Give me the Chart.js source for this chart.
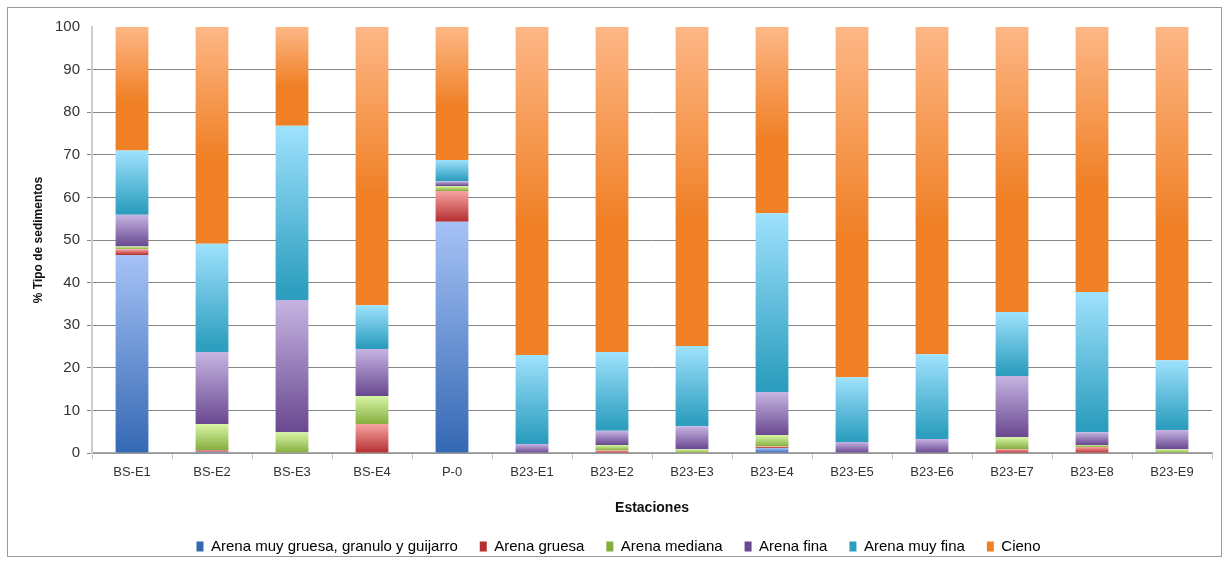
<!DOCTYPE html>
<html>
<head>
<meta charset="utf-8">
<script src="https://cdn.jsdelivr.net/npm/chart.js@4"></script>
<style>
  html, body { margin: 0; padding: 0; background: #fff; }
  #wrap { position: relative; width: 1226px; height: 564px; }
</style>
</head>
<body>
<div id="wrap"><canvas id="sed"></canvas></div>
<script>
const estaciones = ["BS-E1", "BS-E2", "BS-E3", "BS-E4", "P-0", "B23-E1", "B23-E2",
  "B23-E3", "B23-E4", "B23-E5", "B23-E6", "B23-E7", "B23-E8", "B23-E9"];

const muyGruesa = [46.5, 0.3, 0, 0, 54.3, 0, 0, 0, 1.2, 0, 0, 0, 0, 0];
const gruesa = [1.3, 0.4, 0, 6.8, 7.2, 0, 0.6, 0, 0.3, 0, 0, 0.9, 1.4, 0];
const mediana = [0.7, 6.1, 4.9, 6.6, 1.2, 0, 1.3, 0.9, 2.7, 0, 0, 2.8, 0.5, 0.9];
const fina = [7.4, 16.9, 31.0, 11.0, 1.1, 2.1, 3.3, 5.4, 10.1, 2.6, 3.3, 14.4, 3.0, 4.5];
const muyFina = [15.1, 25.4, 40.9, 10.3, 5.0, 20.9, 18.5, 18.8, 42.0, 15.2, 19.9, 15.0, 32.9, 16.4];
const cieno = [29.0, 50.9, 23.2, 65.3, 31.2, 77.0, 76.3, 74.9, 43.7, 82.2, 76.8, 66.9, 62.2, 78.2];

const yTicks = [0, 10, 20, 30, 40, 50, 60, 70, 80, 90, 100];

// [light top, dark bottom, where dark starts]
const shades = [
  ["#a6c2f6", "#3468b3", 1.0],
  ["#f6a3a3", "#b52f2f", 1.0],
  ["#d8f6a6", "#86ad3e", 1.0],
  ["#c6b4e2", "#694890", 1.0],
  ["#9fe2fd", "#2d9ebf", 0.95],
  ["#fdb786", "#f08026", 0.6],
];

function gradFill(series, ctx) {
  const chart = ctx.chart;
  const s = shades[series];
  if (ctx.type !== "data" || !chart.chartArea) return s[1];
  const i = ctx.dataIndex;
  let start = 0;
  for (let d = 0; d < series; d++) start += chart.data.datasets[d].data[i];
  const end = start + chart.data.datasets[series].data[i];
  const y = chart.scales.y;
  const top = y.getPixelForValue(end);
  const bot = y.getPixelForValue(start);
  if (!isFinite(top) || !isFinite(bot) || bot - top < 0.5) return s[1];
  const g = chart.ctx.createLinearGradient(0, top, 0, bot);
  g.addColorStop(0, s[0]);
  g.addColorStop(s[2], s[1]);
  g.addColorStop(1, s[1]);
  return g;
}

const names = ["Arena muy gruesa, granulo y guijarro", "Arena gruesa", "Arena mediana",
  "Arena fina", "Arena muy fina", "Cieno"];
const series = [muyGruesa, gruesa, mediana, fina, muyFina, cieno];

const frame = {
  id: "frame",
  beforeDraw(chart) {
    const c = chart.ctx;
    c.save();
    c.fillStyle = "#fff";
    c.fillRect(0, 0, chart.width, chart.height);
    c.strokeStyle = "#9a9a9a";
    c.lineWidth = 1;
    c.strokeRect(7.5, 7.5, 1214, 549);
    c.restore();
  },
};

Chart.defaults.font.family = "Liberation Sans";
Chart.defaults.font.size = 13;
Chart.defaults.color = "#333";

new Chart(document.getElementById("sed"), {
  type: "bar",
  data: {
    labels: estaciones,
    datasets: series.map((vals, k) => ({
      label: names[k],
      data: vals,
      backgroundColor: (ctx) => gradFill(k, ctx),
      categoryPercentage: 1,
      barPercentage: 0.41,
      borderWidth: 0,
    })),
  },
  options: {
    responsive: true,
    maintainAspectRatio: false,
    animation: false,
    layout: { padding: { left: 25, right: 14, top: 27, bottom: 0 } },
    plugins: {
      tooltip: { enabled: false },
      legend: {
        position: "bottom",
        labels: {
          boxWidth: 7,
          boxHeight: 10,
          padding: 22,
          color: "#222",
          font: { size: 15 },
          generateLabels(chart) {
            return chart.data.datasets.map((ds, k) => ({
              text: ds.label,
              fillStyle: shades[k][1],
              strokeStyle: shades[k][1],
              lineWidth: 0,
              datasetIndex: k,
              hidden: false,
            }));
          },
        },
      },
    },
    scales: {
      x: {
        stacked: true,
        grid: {
          offset: true,
          drawOnChartArea: false,
          tickLength: 6,
          color: "#c4c4c4",
        },
        border: { color: "#a8a8a8", width: 1.5 },
        ticks: { padding: 6, color: "#333", maxRotation: 0, font: { size: 13 } },
        title: {
          display: true,
          text: "Estaciones",
          color: "#111",
          font: { weight: "bold", size: 14 },
          padding: { top: 2, bottom: 0 },
        },
        afterFit(scale) { scale.height = 64; },
      },
      y: {
        stacked: true,
        min: 0,
        max: 100,
        afterBuildTicks(scale) { scale.ticks = yTicks.map((v) => ({ value: v })); },
        grid: {
          color: (ctx) => (ctx.tick && ctx.tick.value === 100 ? "rgba(0,0,0,0)" : "#878787"),
          tickLength: 5,
          lineWidth: 1,
        },
        border: { color: "#cccccc", width: 2 },
        ticks: { padding: 7, color: "#333", font: { size: 15 } },
        title: {
          display: true,
          text: "% Tipo de sedimentos",
          color: "#111",
          font: { weight: "bold", size: 12 },
          padding: 6,
        },
        afterFit(scale) { scale.width = 67; },
      },
    },
  },
  plugins: [frame],
});
</script>
</body>
</html>
